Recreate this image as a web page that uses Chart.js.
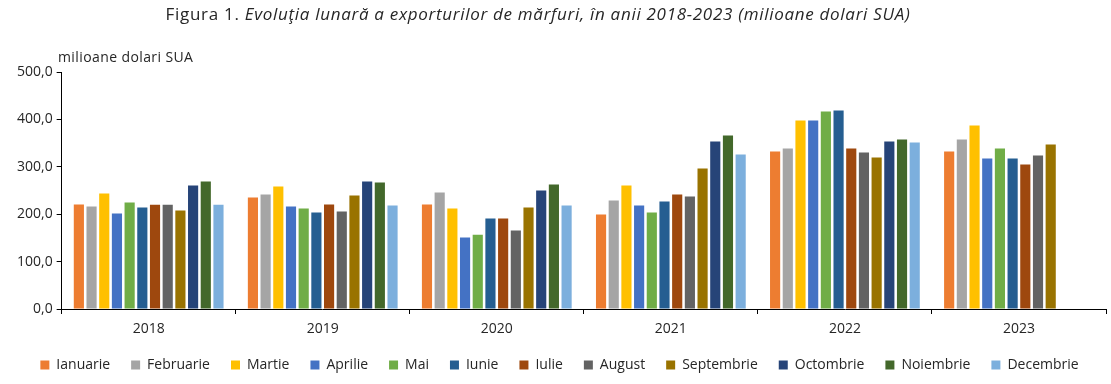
<!DOCTYPE html>
<html>
<head>
<meta charset="utf-8">
<script src="https://cdn.jsdelivr.net/npm/chart.js@4/dist/chart.umd.min.js"></script>
<style>
  html, body { margin: 0; padding: 0; background: #fff; }
  #wrap { position: relative; width: 1111px; height: 384px; }
</style>
</head>
<body>
<div id="wrap"><canvas id="c" width="1111" height="384"></canvas></div>
<script>
const YEARS = ['2018', '2019', '2020', '2021', '2022', '2023'];
const MONTHS = ['Ianuarie', 'Februarie', 'Martie', 'Aprilie', 'Mai', 'Iunie', 'Iulie',
  'August', 'Septembrie', 'Octombrie', 'Noiembrie', 'Decembrie'];
const COLORS = ['#ED7D31', '#A5A5A5', '#FFC000', '#4472C4', '#70AD47', '#255E91',
  '#9E480E', '#636363', '#997300', '#264478', '#43682B', '#7CAFDD'];

// valori pe luna, cate una pentru fiecare an (2018..2023)
const ianuarie   = [220.4, 235.0, 220.4, 199.2, 332.4, 332.4];
const februarie  = [216.0, 241.5, 245.7, 228.8, 338.7, 357.7];
const martie     = [243.6, 258.4, 211.9, 260.5, 397.9, 387.3];
const aprilie    = [201.4, 216.0, 150.6, 218.3, 397.9, 317.6];
const mai        = [224.6, 212.0, 156.9, 203.5, 416.9, 338.7];
const iunie      = [214.0, 203.5, 190.8, 226.7, 419.0, 317.6];
const iulie      = [220.0, 220.4, 190.8, 241.5, 338.7, 305.0];
const august     = [220.0, 205.6, 165.4, 237.3, 330.2, 324.0];
const septembrie = [207.7, 239.4, 214.0, 296.4, 319.7, 347.2];
const octombrie  = [260.5, 269.0, 250.0, 353.5, 353.5, null];
const noiembrie  = [269.0, 266.8, 262.6, 366.2, 357.7, null];
const decembrie  = [220.0, 218.3, 218.3, 326.0, 351.4, null];

const SERIES = [ianuarie, februarie, martie, aprilie, mai, iunie, iulie,
  august, septembrie, octombrie, noiembrie, decembrie];

const FONT = '"Open Sans", Lato, sans-serif';
const TEXT = '#262626';

const titlePlugin = {
  id: 'titles',
  afterDraw(chart) {
    const ctx = chart.ctx;
    ctx.save();
    ctx.fillStyle = TEXT;
    ctx.textBaseline = 'middle';
    ctx.letterSpacing = '0.7px';
    // titlul figurii: "Figura 1." normal + restul italic
    const a = 'Figura 1. ';
    const b = 'Evoluţia lunară a exporturilor de mărfuri, în anii 2018-2023 (milioane dolari SUA)';
    ctx.font = '17px ' + FONT;
    const wa = ctx.measureText(a).width;
    ctx.font = 'italic 17px ' + FONT;
    const wb = ctx.measureText(b).width;
    const x = 538 - (wa + wb) / 2;
    ctx.textAlign = 'left';
    ctx.font = '17px ' + FONT;
    ctx.fillText(a, x, 15);
    ctx.font = 'italic 17px ' + FONT;
    ctx.fillText(b, x + wa, 15);
    // unitatea axei Y
    ctx.letterSpacing = '0.4px';
    ctx.font = '14px ' + FONT;
    ctx.fillText('milioane dolari SUA', 58, 58);
    ctx.restore();
  }
};

new Chart(document.getElementById('c'), {
  type: 'bar',
  data: {
    labels: YEARS,
    datasets: MONTHS.map((m, i) => ({
      label: m,
      data: SERIES[i],
      backgroundColor: COLORS[i],
      borderWidth: 0,
      barPercentage: 0.8,
      categoryPercentage: 0.875
    }))
  },
  options: {
    responsive: false,
    animation: false,
    layout: { padding: { top: 72, left: 13, right: 5, bottom: 2 } },
    plugins: {
      legend: {
        position: 'bottom',
        labels: {
          color: TEXT,
          font: { family: FONT, size: 14 },
          boxWidth: 9,
          boxHeight: 9,
          padding: 21
        }
      },
      tooltip: { enabled: false }
    },
    scales: {
      x: {
        grid: { display: true, offset: true, drawOnChartArea: false, tickLength: 5, color: '#000' },
        border: { display: true, color: '#000', width: 1 },
        ticks: { color: TEXT, font: { family: FONT, size: 14 }, padding: 7 },
        afterFit: s => { s.height = 28; }
      },
      y: {
        min: 0,
        max: 500,
        grid: { display: true, drawOnChartArea: false, tickLength: 5, color: '#000' },
        border: { display: true, color: '#000', width: 1 },
        ticks: {
          stepSize: 100,
          color: TEXT,
          font: { family: FONT, size: 14 },
          padding: 4,
          callback: v => v.toFixed(1).replace('.', ',')
        }
      }
    }
  },
  plugins: [titlePlugin]
});
</script>
</body>
</html>
